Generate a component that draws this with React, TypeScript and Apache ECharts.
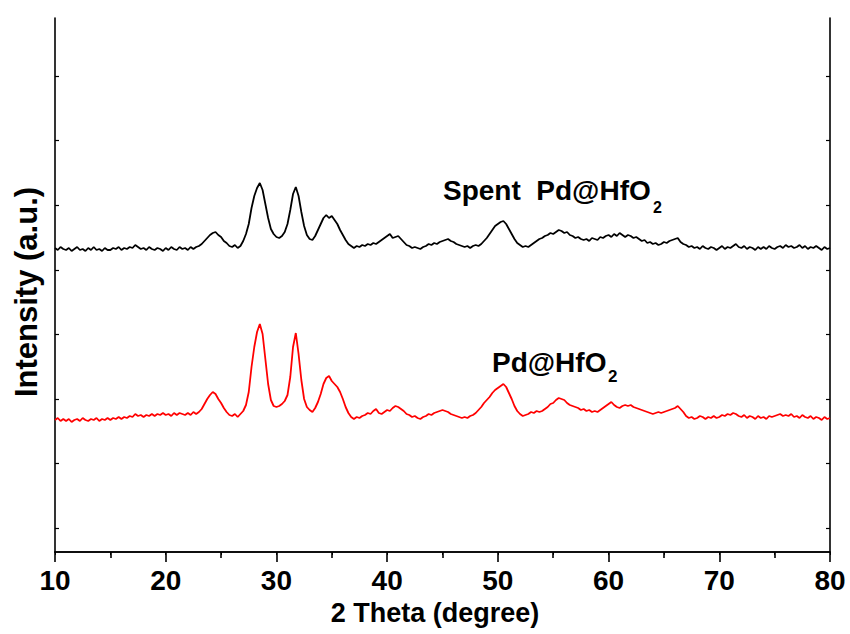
import React, { useEffect, useRef } from "react";
import * as echarts from "echarts";

// 2θ scan: 10° to 80° in 0.25° steps
const THETA_START = 10;
const THETA_STEP = 0.25;

// Spent Pd@HfO2 intensity (a.u.), four readings per degree
const spentIntensity = [
  304, 302, 305, 303, 302, 304, 301, 303, 305, 302, 303, 301, 304, 302, 305, 302,
  303, 301, 304, 302, 302, 304, 303, 305, 302, 304, 303, 305, 304, 307, 305, 303,
  304, 302, 305, 303, 302, 304, 303, 301, 304, 302, 305, 303, 302, 305, 303, 304,
  302, 305, 303, 305, 306, 308, 311, 314, 317, 319, 320, 317, 315, 311, 309, 306,
  305, 307, 304, 306, 311, 318, 328, 344, 356, 364, 369, 362, 348, 334, 323, 318,
  315, 314, 316, 320, 328, 342, 358, 365, 356, 340, 326, 317, 313, 312, 316, 322,
  328, 334, 337, 334, 336, 332, 328, 322, 317, 312, 308, 306, 304, 306, 305, 307,
  306, 308, 307, 309, 308, 310, 312, 314, 316, 318, 314, 315, 316, 313, 310, 307,
  306, 304, 305, 304, 303, 305, 306, 308, 307, 309, 308, 310, 311, 312, 313, 311,
  310, 308, 307, 306, 305, 306, 304, 306, 307, 306, 308, 311, 314, 318, 322, 326,
  328, 330, 331, 328, 323, 318, 313, 309, 307, 305, 306, 305, 307, 309, 311, 313,
  314, 316, 317, 319, 318, 320, 322, 321, 319, 320, 317, 316, 314, 315, 313, 312,
  313, 311, 314, 313, 312, 315, 314, 316, 317, 315, 318, 316, 319, 317, 315, 317,
  316, 314, 315, 313, 311, 312, 309, 310, 308, 309, 307, 308, 310, 309, 311, 312,
  313, 314, 310, 308, 307, 305, 306, 304, 305, 303, 306, 304, 303, 305, 304, 302,
  304, 306, 303, 305, 304, 306, 308, 305, 304, 306, 303, 305, 304, 302, 305, 303,
  305, 303, 306, 304, 303, 305, 306, 304, 307, 305, 306, 304, 305, 307, 304, 306,
  303, 305, 304, 306, 304, 302, 305, 303, 304,
];

// Fresh Pd@HfO2 intensity (a.u.), same 2θ grid
const freshIntensity = [
  132, 134, 131, 133, 131, 133, 130, 132, 133, 131, 134, 132, 131, 133, 132, 134,
  131, 133, 132, 134, 132, 134, 133, 135, 133, 135, 134, 136, 135, 138, 136, 137,
  135, 137, 136, 138, 136, 138, 137, 139, 137, 138, 136, 139, 137, 139, 138, 137,
  139, 137, 140, 138, 140, 143, 148, 153, 157, 160, 158, 153, 149, 144, 140, 137,
  136, 138, 135, 138, 141, 147, 160, 185, 205, 220, 228, 218, 193, 168, 152, 146,
  145, 146, 148, 151, 157, 175, 205, 219, 198, 172, 153, 145, 142, 140, 144, 150,
  158, 168, 174, 176, 171, 168, 165, 160, 153, 145, 139, 135, 133, 135, 134, 136,
  137, 139, 138, 141, 143, 139, 138, 140, 142, 141, 144, 146, 145, 143, 141, 138,
  137, 135, 136, 134, 133, 135, 136, 138, 137, 139, 140, 141, 142, 141, 140, 138,
  137, 136, 135, 134, 135, 134, 136, 137, 139, 142, 145, 149, 152, 155, 159, 162,
  164, 166, 168, 165, 159, 153, 146, 141, 138, 136, 137, 138, 140, 139, 141, 140,
  141, 143, 145, 148, 149, 152, 154, 153, 152, 149, 147, 146, 145, 144, 142, 143,
  141, 142, 140, 141, 140, 142, 144, 146, 148, 150, 147, 145, 144, 146, 147, 146,
  147, 145, 144, 143, 142, 141, 140, 139, 138, 139, 140, 139, 140, 141, 142, 143,
  144, 146, 143, 140, 136, 134, 135, 133, 134, 136, 135, 133, 135, 134, 136, 134,
  135, 137, 136, 138, 137, 139, 138, 136, 135, 137, 134, 136, 135, 133, 136, 134,
  135, 133, 136, 135, 136, 137, 138, 136, 137, 136, 138, 135, 136, 134, 137, 135,
  134, 136, 133, 135, 134, 132, 135, 133, 134,
];

// Tick marks along the intensity axis (no labels are drawn there)
const intensityTicks = [24, 88.5, 153, 218, 282, 347, 412, 476];

const xTicks = [10, 20, 30, 40, 50, 60, 70, 80];

const toPairs = (vals: number[]) =>
  vals.map((v, i) => [THETA_START + i * THETA_STEP, v]);

const BOLD_SANS = "'Liberation Sans', Arial, Helvetica, sans-serif";

export default function App() {
  const ref = useRef<HTMLDivElement>(null);

  useEffect(() => {
    if (!ref.current) return;
    const chart = echarts.init(ref.current, undefined, { renderer: "svg" });

    const axisLine = { show: true, lineStyle: { color: "#000", width: 1.6 } };

    chart.setOption({
      animation: false,
      backgroundColor: "#fff",
      grid: { left: 55, right: 20, top: 18, bottom: 82, containLabel: false },
      xAxis: [
        {
          type: "value",
          min: 10,
          max: 80,
          interval: 10,
          position: "bottom",
          axisLine,
          axisTick: { show: true, inside: false, length: 10, lineStyle: { color: "#000", width: 1.6 } },
          minorTick: { show: true, splitNumber: 2, length: 6, lineStyle: { color: "#000", width: 1.6 } },
          splitLine: { show: false },
          axisLabel: {
            show: true,
            margin: 14,
            color: "#000",
            fontFamily: BOLD_SANS,
            fontWeight: "bold",
            fontSize: 28,
            customValues: xTicks,
          },
          name: "2 Theta (degree)",
          nameLocation: "middle",
          nameGap: 47,
          nameTextStyle: {
            color: "#000",
            fontFamily: BOLD_SANS,
            fontWeight: "bold",
            fontSize: 27,
            padding: [0, 15, 0, 0],
          },
        },
        {
          type: "value",
          min: 10,
          max: 80,
          interval: 5,
          position: "top",
          axisLine,
          axisTick: { show: true, inside: true, length: 3, lineStyle: { color: "#000", width: 1 } },
          axisLabel: { show: false },
          splitLine: { show: false },
        },
      ],
      yAxis: [
        {
          type: "value",
          min: 0,
          max: 534,
          position: "left",
          axisLine,
          axisTick: {
            show: true,
            inside: true,
            length: 4,
            customValues: intensityTicks,
            lineStyle: { color: "#000", width: 1.2 },
          },
          axisLabel: { show: false },
          splitLine: { show: false },
        },
        {
          type: "value",
          min: 0,
          max: 534,
          position: "right",
          axisLine,
          axisTick: {
            show: true,
            inside: true,
            length: 4,
            customValues: intensityTicks,
            lineStyle: { color: "#000", width: 1.2 },
          },
          axisLabel: { show: false },
          splitLine: { show: false },
        },
      ],
      graphic: [
        {
          type: "text",
          x: 26,
          y: 292,
          rotation: Math.PI / 2,
          style: {
            text: "Intensity (a.u.)",
            fill: "#000",
            font: `bold 31px ${BOLD_SANS}`,
            align: "center",
            verticalAlign: "middle",
          },
        },
        {
          type: "text",
          x: 443,
          y: 190.5,
          style: {
            text: "Spent  Pd@HfO",
            fill: "#000",
            font: `bold 28px ${BOLD_SANS}`,
            align: "left",
            verticalAlign: "middle",
          },
        },
        {
          type: "text",
          x: 653,
          y: 207.5,
          style: {
            text: "2",
            fill: "#000",
            font: `bold 16px ${BOLD_SANS}`,
            align: "left",
            verticalAlign: "middle",
          },
        },
        {
          type: "text",
          x: 492,
          y: 362,
          style: {
            text: "Pd@HfO",
            fill: "#000",
            font: `bold 28px ${BOLD_SANS}`,
            align: "left",
            verticalAlign: "middle",
          },
        },
        {
          type: "text",
          x: 608,
          y: 376,
          style: {
            text: "2",
            fill: "#000",
            font: `bold 17px ${BOLD_SANS}`,
            align: "left",
            verticalAlign: "middle",
          },
        },
      ],
      series: [
        {
          name: "Spent Pd@HfO2",
          type: "line",
          data: toPairs(spentIntensity),
          showSymbol: false,
          lineStyle: { color: "#000", width: 1.8 },
          silent: true,
        },
        {
          name: "Pd@HfO2",
          type: "line",
          data: toPairs(freshIntensity),
          showSymbol: false,
          lineStyle: { color: "#ff0000", width: 1.8 },
          silent: true,
        },
      ],
    });

    return () => chart.dispose();
  }, []);

  return (
    <div
      ref={ref}
      style={{ position: "fixed", left: 0, top: 0, width: 850, height: 634, background: "#fff" }}
    />
  );
}
